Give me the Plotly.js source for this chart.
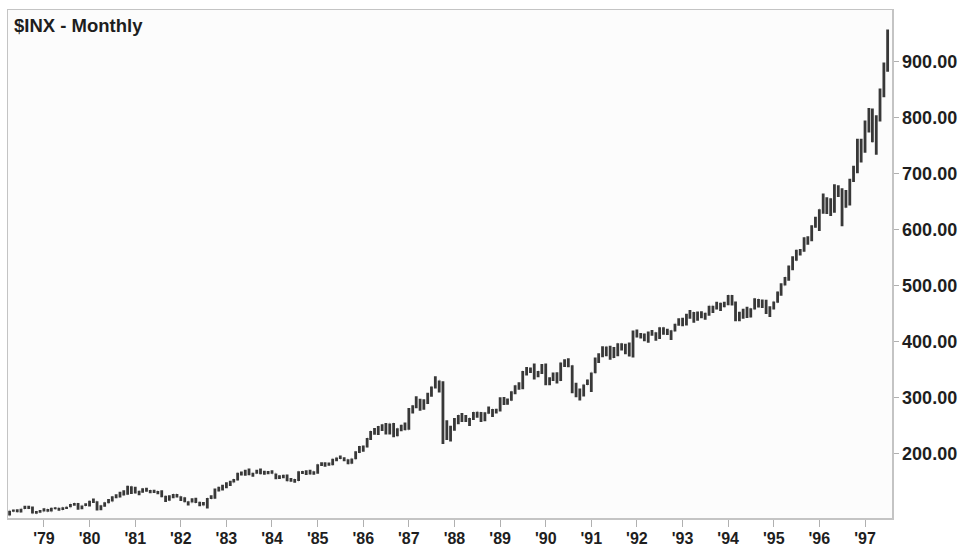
<!DOCTYPE html>
<html>
<head>
<meta charset="utf-8">
<script src="https://cdn.plot.ly/plotly-3.0.1.min.js"></script>
<style>
  html, body { margin: 0; padding: 0; background: #ffffff; }
  #chart { width: 966px; height: 549px; }
</style>
</head>
<body>
<div id="chart"></div>
<script>
// Monthly bars, April 1978 - July 1997 (one row per year)
const months = [];
(function () {
  let y = 1978, m = 4;
  while (y < 1997 || (y === 1997 && m <= 7)) {
    months.push(y + '-' + String(m).padStart(2, '0') + '-01');
    m++; if (m > 12) { m = 1; y++; }
  }
})();

const openV = [
  89.21, 96.83, 97.24, 95.53, 100.68, 103.29, 102.54, 93.15, 94.70,
  96.11, 99.93, 96.28, 101.59, 101.76, 99.08, 102.91, 103.81, 109.32, 109.32, 101.82, 106.16,
  107.94, 114.16, 113.66, 102.09, 106.29, 111.24, 114.24, 121.67, 122.38, 125.46, 127.47, 140.52,
  135.76, 129.55, 131.27, 136.00, 132.81, 132.59, 131.21, 130.92, 122.79, 116.18, 121.89, 126.35,
  122.55, 120.40, 113.11, 111.96, 116.44, 111.88, 109.61, 107.09, 119.51, 120.42, 133.71, 138.54,
  140.64, 145.30, 148.06, 152.96, 164.42, 162.39, 168.11, 162.56, 164.40, 166.07, 163.55, 166.40,
  164.93, 163.41, 157.06, 159.18, 160.05, 150.55, 153.18, 150.66, 166.68, 166.10, 166.09, 163.58,
  167.24, 179.63, 181.18, 180.66, 179.83, 189.55, 191.85, 190.92, 188.63, 182.08, 189.82, 202.17,
  211.28, 211.78, 226.92, 238.90, 235.52, 247.35, 250.84, 236.12, 252.93, 231.32, 243.98, 249.22,
  242.17, 274.08, 284.20, 291.70, 288.36, 290.10, 304.00, 318.66, 329.80, 321.83, 251.79, 230.30,
  247.08, 257.07, 267.82, 258.89, 261.33, 262.16, 273.50, 272.02, 261.52, 271.91, 278.97, 273.70,
  277.72, 297.47, 288.86, 294.87, 309.64, 320.52, 317.98, 346.08, 351.45, 349.15, 340.36, 345.99,
  353.40, 329.08, 331.89, 339.94, 330.80, 361.23, 358.02, 356.15, 322.56, 306.05, 304.00, 322.22,
  330.22, 343.93, 367.07, 375.22, 375.34, 389.83, 371.16, 387.81, 395.43, 387.86, 392.46, 375.22,
  417.09, 408.79, 412.70, 403.69, 414.95, 415.35, 408.14, 424.21, 414.03, 417.80, 418.68, 431.35,
  435.71, 438.78, 443.38, 451.67, 440.19, 450.19, 450.53, 448.13, 463.56, 458.93, 467.83, 461.79,
  466.45, 481.61, 467.14, 445.77, 450.91, 456.50, 444.27, 458.26, 475.49, 462.69, 472.35, 453.69,
  459.27, 470.42, 487.39, 500.71, 514.71, 533.40, 544.75, 562.06, 561.88, 584.41, 581.50, 605.37,
  615.93, 636.02, 640.43, 645.50, 654.17, 669.12, 670.63, 639.95, 651.99, 687.31, 705.27, 757.02,
  740.74, 786.16, 790.82, 757.12, 801.34, 848.28, 885.14
];
const highV = [
  97.1, 99.6, 99.8, 101.0, 106.3, 106.0, 105.0, 96.9, 98.6,
  101.9, 100.5, 102.7, 103.5, 102.6, 103.6, 104.3, 109.4, 111.3, 111.3, 106.8, 110.6,
  115.2, 119.1, 114.3, 107.3, 112.4, 118.2, 123.3, 126.9, 131.1, 133.8, 141.9, 141.0,
  140.3, 133.2, 137.4, 138.4, 134.4, 135.0, 132.4, 134.0, 124.0, 124.8, 127.4, 127.4,
  123.0, 121.5, 114.2, 119.6, 120.3, 113.2, 112.8, 120.0, 124.9, 137.0, 140.0, 143.7,
  148.0, 150.9, 154.0, 165.0, 167.6, 170.4, 172.7, 165.0, 170.4, 172.7, 168.7, 168.1,
  169.6, 163.9, 160.8, 161.7, 162.1, 155.6, 153.8, 168.0, 168.4, 169.6, 170.4, 168.0,
  180.3, 183.9, 183.9, 183.6, 190.3, 192.4, 196.1, 193.1, 189.1, 190.6, 203.5, 213.0,
  213.8, 227.2, 240.0, 245.4, 248.6, 251.8, 253.9, 253.3, 254.1, 244.7, 251.1, 254.9,
  280.9, 286.0, 301.9, 297.3, 296.5, 308.3, 319.3, 337.9, 330.0, 328.9, 259.0, 249.2,
  263.0, 268.6, 272.0, 268.2, 263.0, 274.0, 274.3, 274.0, 273.4, 283.7, 279.3, 279.4,
  300.0, 300.6, 298.0, 311.0, 321.4, 327.0, 346.9, 354.1, 353.5, 360.4, 347.0, 359.4,
  360.6, 336.1, 344.5, 344.7, 362.3, 367.9, 369.8, 357.4, 326.0, 315.8, 323.0, 331.9,
  344.5, 371.1, 378.7, 391.3, 390.8, 392.1, 389.9, 396.6, 396.7, 395.8, 398.2, 419.3,
  421.2, 415.2, 414.0, 417.6, 420.3, 416.5, 425.1, 425.1, 422.4, 419.8, 431.5, 441.3,
  442.1, 449.5, 456.0, 452.4, 453.5, 453.9, 451.0, 463.6, 463.6, 470.9, 469.2, 470.8,
  482.9, 482.9, 471.1, 453.1, 458.5, 462.1, 459.3, 477.0, 476.0, 474.8, 474.4, 463.0,
  471.4, 489.2, 503.9, 515.2, 535.7, 552.1, 564.0, 565.0, 586.0, 587.9, 607.6, 622.9,
  636.2, 664.2, 657.5, 656.1, 680.9, 679.1, 673.6, 670.7, 690.9, 714.1, 762.1, 762.1,
  794.7, 817.4, 816.3, 804.1, 851.9, 898.7, 957.7
];
const lowV = [
  88.9, 95.5, 94.6, 94.2, 100.3, 100.5, 92.3, 91.7, 93.6,
  96.0, 95.5, 96.0, 99.8, 97.3, 98.5, 100.5, 103.5, 106.3, 99.0, 99.9, 105.9,
  104.7, 111.1, 97.9, 98.0, 104.4, 110.5, 113.9, 119.4, 120.9, 124.5, 126.0, 127.3,
  128.2, 124.9, 129.3, 131.2, 128.7, 128.8, 126.6, 121.5, 112.8, 115.3, 119.7, 121.0,
  114.6, 112.3, 106.7, 111.8, 111.2, 105.1, 106.6, 101.4, 118.3, 118.6, 131.7, 133.4,
  137.7, 141.5, 147.6, 151.4, 160.2, 160.0, 160.7, 157.9, 163.6, 162.4, 161.7, 162.7,
  163.5, 153.6, 153.8, 155.2, 150.2, 149.2, 147.3, 150.6, 163.0, 161.3, 162.2, 161.6,
  163.4, 177.2, 175.9, 177.9, 178.4, 185.6, 189.9, 185.8, 180.6, 181.2, 189.2, 200.7,
  202.6, 210.4, 223.7, 232.9, 232.7, 239.6, 233.6, 233.7, 228.7, 230.3, 239.5, 241.1,
  242.1, 271.3, 280.5, 276.2, 277.8, 288.3, 301.0, 316.0, 308.6, 216.5, 223.9, 221.2,
  240.2, 252.0, 256.1, 256.0, 248.9, 259.7, 263.3, 256.0, 257.3, 270.6, 264.8, 270.9,
  274.8, 286.4, 286.6, 293.9, 305.4, 313.7, 314.6, 339.1, 343.7, 331.8, 335.8, 341.5,
  321.4, 321.4, 329.1, 324.8, 329.1, 354.2, 353.8, 307.2, 300.0, 294.5, 301.4, 322.0,
  309.4, 343.0, 361.5, 371.6, 373.6, 367.3, 370.3, 373.3, 383.5, 377.2, 373.0, 371.4,
  406.9, 405.0, 400.2, 397.4, 410.1, 401.3, 404.1, 411.9, 411.6, 402.7, 417.8, 427.9,
  426.9, 428.6, 440.7, 433.5, 436.7, 441.5, 438.8, 446.0, 450.9, 456.8, 454.4, 460.9,
  464.4, 464.3, 436.2, 435.9, 440.6, 441.6, 442.6, 456.8, 460.5, 459.5, 448.9, 443.4,
  457.2, 469.3, 481.8, 500.1, 508.3, 527.1, 544.0, 553.7, 560.4, 572.6, 578.9, 603.3,
  597.3, 628.0, 627.6, 624.1, 630.0, 658.0, 605.9, 638.7, 643.1, 685.1, 700.7, 720.0,
  737.0, 773.4, 756.1, 733.5, 793.2, 836.5, 882.2
];
const closeV = [
  96.83, 97.24, 95.53, 100.68, 103.29, 102.54, 93.15, 94.70, 96.11,
  99.93, 96.28, 101.59, 101.76, 99.08, 102.91, 103.81, 109.32, 109.32, 101.82, 106.16, 107.94,
  114.16, 113.66, 102.09, 106.29, 111.24, 114.24, 121.67, 122.38, 125.46, 127.47, 140.52, 135.76,
  129.55, 131.27, 136.00, 132.81, 132.59, 131.21, 130.92, 122.79, 116.18, 121.89, 126.35, 122.55,
  120.40, 113.11, 111.96, 116.44, 111.88, 109.61, 107.09, 119.51, 120.42, 133.71, 138.54, 140.64,
  145.30, 148.06, 152.96, 164.42, 162.39, 168.11, 162.56, 164.40, 166.07, 163.55, 166.40, 164.93,
  163.41, 157.06, 159.18, 160.05, 150.55, 153.18, 150.66, 166.68, 166.10, 166.09, 163.58, 167.24,
  179.63, 181.18, 180.66, 179.83, 189.55, 191.85, 190.92, 188.63, 182.08, 189.82, 202.17, 211.28,
  211.78, 226.92, 238.90, 235.52, 247.35, 250.84, 236.12, 252.93, 231.32, 243.98, 249.22, 242.17,
  274.08, 284.20, 291.70, 288.36, 290.10, 304.00, 318.66, 329.80, 321.83, 251.79, 230.30, 247.08,
  257.07, 267.82, 258.89, 261.33, 262.16, 273.50, 272.02, 261.52, 271.91, 278.97, 273.70, 277.72,
  297.47, 288.86, 294.87, 309.64, 320.52, 317.98, 346.08, 351.45, 349.15, 340.36, 345.99, 353.40,
  329.08, 331.89, 339.94, 330.80, 361.23, 358.02, 356.15, 322.56, 306.05, 304.00, 322.22, 330.22,
  343.93, 367.07, 375.22, 375.34, 389.83, 371.16, 387.81, 395.43, 387.86, 392.46, 375.22, 417.09,
  408.79, 412.70, 403.69, 414.95, 415.35, 408.14, 424.21, 414.03, 417.80, 418.68, 431.35, 435.71,
  438.78, 443.38, 451.67, 440.19, 450.19, 450.53, 448.13, 463.56, 458.93, 467.83, 461.79, 466.45,
  481.61, 467.14, 445.77, 450.91, 456.50, 444.27, 458.26, 475.49, 462.69, 472.35, 453.69, 459.27,
  470.42, 487.39, 500.71, 514.71, 533.40, 544.75, 562.06, 561.88, 584.41, 581.50, 605.37, 615.93,
  636.02, 640.43, 645.50, 654.17, 669.12, 670.63, 639.95, 651.99, 687.31, 705.27, 757.02, 740.74,
  786.16, 790.82, 757.12, 801.34, 848.28, 885.14, 954.29
];

const yearTickVals = ['1979-01-01','1980-01-01','1981-01-01','1982-01-01','1983-01-01','1984-01-01','1985-01-01','1986-01-01','1987-01-01','1988-01-01','1989-01-01','1990-01-01','1991-01-01','1992-01-01','1993-01-01','1994-01-01','1995-01-01','1996-01-01','1997-01-01'];
const yearTickText = ["'79","'80","'81","'82","'83","'84","'85","'86","'87","'88","'89","'90","'91","'92","'93","'94","'95","'96","'97"];
const priceTickVals = [200, 300, 400, 500, 600, 700, 800, 900];
const priceTickText = ['200.00','300.00','400.00','500.00','600.00','700.00','800.00','900.00'];
const chartTitle = '$INX - Monthly';

const font = 'Liberation Sans, Arial, Helvetica, sans-serif';

const trace = {
  type: 'ohlc',
  x: months,
  open: openV,
  high: highV,
  low: lowV,
  close: closeV,
  tickwidth: 0.05,
  increasing: { line: { color: '#383838', width: 2.8 } },
  decreasing: { line: { color: '#383838', width: 2.8 } },
  hoverinfo: 'skip',
  showlegend: false
};

const layout = {
  width: 966,
  height: 549,
  margin: { l: 8, r: 74, t: 10, b: 31 },
  paper_bgcolor: '#ffffff',
  plot_bgcolor: '#fcfcfc',
  showlegend: false,
  xaxis: {
    type: 'date',
    range: ['1978-03-19', '1997-08-05'],
    rangeslider: { visible: false },
    tickmode: 'array',
    tickvals: yearTickVals,
    ticktext: yearTickText,
    ticks: 'outside',
    ticklen: 7,
    tickwidth: 1,
    tickcolor: '#b0b0b0',
    ticklabelstandoff: -2,
    showgrid: false,
    zeroline: false,
    showline: true,
    linecolor: '#c4c4c4',
    linewidth: 1.5,
    mirror: true,
    tickfont: { family: font, size: 16, color: '#1e1e1e', weight: 'bold' },
    fixedrange: true
  },
  yaxis: {
    side: 'right',
    range: [84.3, 992.4],
    tickmode: 'array',
    tickvals: priceTickVals,
    ticktext: priceTickText,
    ticks: 'outside',
    ticklen: 5,
    tickwidth: 1,
    tickcolor: '#b0b0b0',
    showgrid: false,
    zeroline: false,
    showline: true,
    linecolor: '#c4c4c4',
    linewidth: 1.5,
    mirror: true,
    tickfont: { family: font, size: 18, color: '#1e1e1e', weight: 'bold' },
    fixedrange: true
  },
  annotations: [{
    text: chartTitle,
    xref: 'paper', yref: 'paper',
    x: 0, y: 1,
    xanchor: 'left', yanchor: 'top',
    xshift: 4, yshift: -3,
    showarrow: false,
    font: { family: font, size: 18.5, color: '#1e1e1e', weight: 'bold' }
  }]
};

Plotly.newPlot('chart', [trace], layout, { displayModeBar: false, staticPlot: true });
</script>
</body>
</html>
